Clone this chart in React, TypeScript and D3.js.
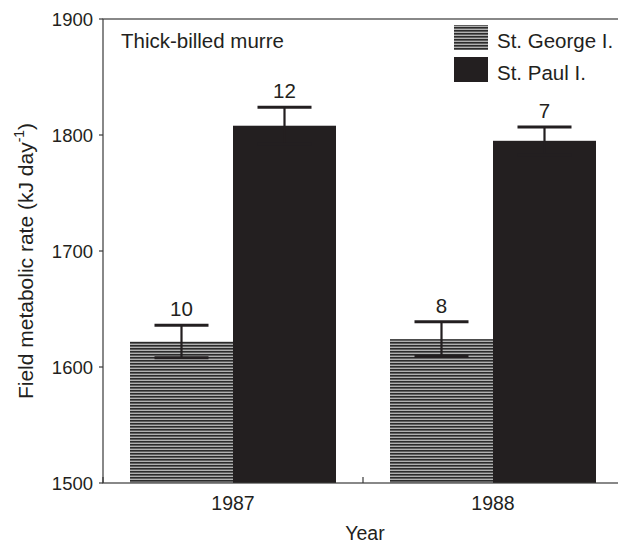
import { scaleBand, scaleLinear } from "d3";

const years = ["1987", "1988"];
const sites = ["St. George I.", "St. Paul I."];
const georgeMeans = [1622, 1624];
const georgeErrors = [14, 15];
const georgeCounts = [10, 8];
const paulMeans = [1808, 1795];
const paulErrors = [16, 12];
const paulCounts = [12, 7];
const yTicks = [1500, 1600, 1700, 1800, 1900];

const width = 618;
const height = 545;
const left = 103;
const right = 623;
const top = 19;
const bottom = 483;
const ink = "#231f20";
const font = "'Liberation Sans', Arial, sans-serif";

export default function App() {
  const x = scaleBand<string>().domain(years).range([left, right]).padding(0);
  const y = scaleLinear().domain([1500, 1900]).range([bottom, top]);
  const barW = 103;
  const inner = scaleBand<string>().domain(sites).range([-barW, barW]).padding(0);

  const rows = years.flatMap((year, i) => [
    { year, site: sites[0], mean: georgeMeans[i], se: georgeErrors[i], n: georgeCounts[i] },
    { year, site: sites[1], mean: paulMeans[i], se: paulErrors[i], n: paulCounts[i] },
  ]);
  const fillFor = (site: string) => (site === sites[0] ? "url(#hatch)" : ink);
  const cap = 27;

  return (
    <svg
      width={width}
      height={height}
      viewBox={`0 0 ${width} ${height}`}
      style={{ position: "absolute", left: 0, top: 0, background: "#fff" }}
      fontFamily={font}
    >
      <defs>
        <pattern id="hatch" patternUnits="userSpaceOnUse" width={6} height={3}>
          <rect width={6} height={3} fill="#b0b0b0" />
          <rect width={6} height={1.6} fill="#2b2b2b" />
        </pattern>
      </defs>

      {rows.map((d) => {
        const x0 = (x(d.year) ?? 0) + x.bandwidth() / 2 + (inner(d.site) ?? 0);
        const cx = x0 + inner.bandwidth() / 2;
        return (
          <g key={d.year + d.site}>
            <rect x={x0} y={y(d.mean)} width={inner.bandwidth()} height={bottom - y(d.mean)} fill={fillFor(d.site)} />
            <line x1={cx} x2={cx} y1={y(d.mean - d.se)} y2={y(d.mean + d.se)} stroke={ink} strokeWidth={2.2} />
            <line x1={cx - cap} x2={cx + cap} y1={y(d.mean + d.se)} y2={y(d.mean + d.se)} stroke={ink} strokeWidth={3} />
            <line x1={cx - cap} x2={cx + cap} y1={y(d.mean - d.se)} y2={y(d.mean - d.se)} stroke={ink} strokeWidth={3} />
            <text x={cx} y={y(d.mean + d.se) - 9} textAnchor="middle" fontSize={20.5} fill={ink}>
              {d.n}
            </text>
          </g>
        );
      })}

      {/* frame */}
      <rect x={left} y={top} width={right - left} height={bottom - top} fill="none" stroke="#3a3a3a" strokeWidth={1.2} />

      {yTicks.map((t) => (
        <g key={t}>
          <line x1={left - 4} x2={left} y1={y(t)} y2={y(t)} stroke="#3a3a3a" strokeWidth={1.2} />
          <text x={left - 10} y={y(t) + 6.5} textAnchor="end" fontSize={18.5} fill={ink}>
            {t}
          </text>
        </g>
      ))}

      {[left, (x("1988") ?? 0), right].map((t, i) => (
        <line key={i} x1={t} x2={t} y1={bottom} y2={bottom - 6} stroke="#3a3a3a" strokeWidth={1.2} />
      ))}
      {years.map((yr) => (
        <text key={yr} x={(x(yr) ?? 0) + x.bandwidth() / 2} y={510} textAnchor="middle" fontSize={19.5} fill={ink}>
          {yr}
        </text>
      ))}

      <text x={365} y={540} textAnchor="middle" fontSize={19.5} fill={ink}>
        Year
      </text>
      <text transform="translate(33,261) rotate(-90)" textAnchor="middle" fontSize={21} fill={ink}>
        Field metabolic rate (kJ day
        <tspan fontSize={14} dy={-9}>-1</tspan>
        <tspan dy={9}>)</tspan>
      </text>

      <text x={121} y={48} fontSize={20.5} fill={ink}>
        Thick-billed murre
      </text>

      {sites.map((s, i) => (
        <g key={s}>
          <rect x={454} y={25 + i * 32} width={34} height={25} fill={fillFor(s)} />
          <text x={497} y={48 + i * 32} fontSize={20.5} fill={ink}>
            {s}
          </text>
        </g>
      ))}
    </svg>
  );
}
